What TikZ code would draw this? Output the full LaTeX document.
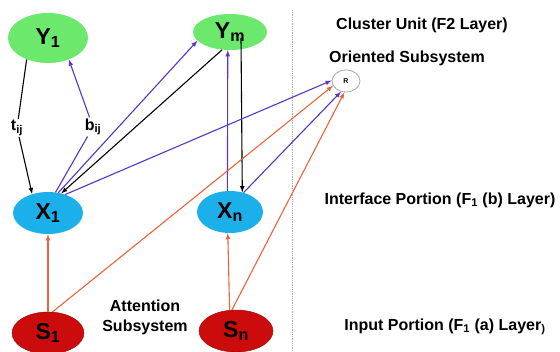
\documentclass[tikz,border=0pt]{standalone}
\usepackage{fontspec}
\setmainfont{Liberation Sans}
\usepackage{xcolor}
\usepackage{tikz}
\usetikzlibrary{shapes.geometric,calc}

\definecolor{ygreen}{RGB}{108,232,108}
\definecolor{xblue}{RGB}{28,176,234}
\definecolor{sred}{RGB}{204,12,12}
\definecolor{sdark}{RGB}{150,0,0}
\definecolor{vlink}{RGB}{88,52,200}
\definecolor{olink}{RGB}{232,100,60}

\begin{document}
\begin{tikzpicture}[x=1pt,y=-1pt,
  unit/.style={ellipse,inner sep=0pt,font=\fontsize{23}{25}\selectfont\bfseries},
  wt/.style={inner sep=1pt,font=\fontsize{16}{18}\selectfont\bfseries},
  txt/.style={font=\fontsize{16}{20}\selectfont\bfseries,align=center},
  link/.style={line width=1.1pt,-latex}]
  \useasboundingbox (0,0) rectangle (560,352);
  % cluster units
  \node[unit,fill=ygreen,minimum width=80pt,minimum height=50pt] (Y1) at (48,38) {Y\textsubscript{1}};
  \node[unit,fill=ygreen,minimum width=74pt,minimum height=36pt] (Ym) at (230,32) {Y\textsubscript{m}};
  % interface units
  \node[unit,fill=xblue,minimum width=70pt,minimum height=42pt] (X1) at (48,213) {X\textsubscript{1}};
  \node[unit,fill=xblue,minimum width=66pt,minimum height=42pt] (Xn) at (230,212) {X\textsubscript{n}};
  % input units
  \node[unit,fill=sred,draw=sdark,minimum width=72pt,minimum height=42pt] (S1) at (48,333) {S\textsubscript{1}};
  \node[unit,fill=sred,draw=sdark,minimum width=74pt,minimum height=42pt] (Sn) at (236,331) {S\textsubscript{n}};
  % reset
  \node[ellipse,draw=gray!70,line width=0.8pt,fill=white,minimum width=28pt,minimum height=22pt,inner sep=0pt,
    font=\fontsize{7}{8}\selectfont\bfseries] (R) at (346,81) {R};
  \draw[gray!60,densely dotted,line width=0.8pt] (292,10) -- (292,352);
  % weight labels
  \node[wt] (tij) at (17,128) {t\textsubscript{ij}};
  \node[wt] (bij) at (93,127) {b\textsubscript{ij}};
  % F1 <-> F2
  \draw[link,black] (Y1.225) -- (tij) -- (X1.130);
  \draw[link,vlink] (X1.70) -- (bij) -- (Y1.-46);
  \draw[link,vlink] (X1.63) -- (Ym.195);
  \draw[link,black] (Ym.246) -- (X1.56);
  \draw[link,vlink] (Xn.97) -- (Ym.263);
  \draw[link,black] ($(Ym)+(11,6)$) -- (Xn.58);
  % to R
  \draw[link,vlink] (X1.47) -- (R.178);
  \draw[link,vlink] (Xn.55) -- (R.245);
  \draw[link,olink] (S1.78) -- (R.200);
  \draw[link,olink] (Sn.101) -- (R.262);
  % inputs
  \draw[link,olink] (S1) -- (X1);
  \draw[link,olink] (Sn.107) -- (Xn.264);
  % layer texts
  \node[txt] (cl) at (422,25) {Cluster Unit (F2 Layer)};
  \node[txt] (os) at (407,58) {Oriented Subsystem};
  \node[txt] (ip) at (440,200) {Interface Portion (F\textsubscript{1} (b) Layer)};
  \node[txt] (inp) at (445,327) {Input Portion (F\textsubscript{1} (a) Layer\textsubscript{)}};
  \node[txt] (att) at (145,317) {Attention\\Subsystem};
\end{tikzpicture}
\end{document}
